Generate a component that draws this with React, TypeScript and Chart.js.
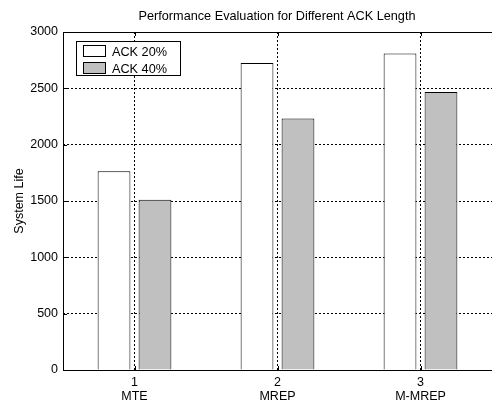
import React, { useEffect, useRef } from "react";
import { Chart, registerables } from "chart.js";

Chart.register(...registerables);

const categories: string[][] = [["1", "MTE"], ["2", "MREP"], ["3", "M-MREP"]];
const seriesNames = ["ACK 20%", "ACK 40%"];
const ack20 = [1765, 2725, 2810];
const ack40 = [1512, 2232, 2468];
const yTicks = [0, 500, 1000, 1500, 2000, 2500, 3000];
const titleText = "Performance Evaluation for Different ACK Length";
const yTitle = "System Life";

const FONT = "'Liberation Sans', Arial, sans-serif";

const framePlugin = {
  id: "frame",
  afterDraw(chart: any) {
    const { ctx, chartArea } = chart;
    const { left, right, top, bottom } = chartArea;
    ctx.save();
    // title
    ctx.fillStyle = "#000";
    ctx.font = `12.7px ${FONT}`;
    ctx.textAlign = "center";
    ctx.textBaseline = "alphabetic";
    ctx.fillText(titleText, 277, 20);
    // axes frame (right edge lies outside the picture)
    ctx.strokeStyle = "#000";
    ctx.lineWidth = 1;
    ctx.setLineDash([]);
    ctx.beginPath();
    ctx.moveTo(Math.round(left) + 0.5, Math.round(top) + 0.5);
    ctx.lineTo(Math.round(left) + 0.5, Math.round(bottom) + 0.5);
    ctx.lineTo(right, Math.round(bottom) + 0.5);
    ctx.moveTo(Math.round(left) + 0.5, Math.round(top) + 0.5);
    ctx.lineTo(right, Math.round(top) + 0.5);
    ctx.stroke();
    // inward tick marks
    const ys = chart.scales.y;
    const xs = chart.scales.x;
    ctx.beginPath();
    ys.ticks.forEach((t: any, i: number) => {
      const py = Math.round(ys.getPixelForTick(i)) + 0.5;
      ctx.moveTo(left, py);
      ctx.lineTo(left + 4, py);
    });
    xs.ticks.forEach((t: any, i: number) => {
      const px = Math.round(xs.getPixelForValue(i)) + 0.5;
      ctx.moveTo(px, bottom);
      ctx.lineTo(px, bottom - 4);
      ctx.moveTo(px, top);
      ctx.lineTo(px, top + 4);
    });
    ctx.stroke();
    // legend box
    const bx = 76, by = 41, bw = 104, bh = 34;
    ctx.fillStyle = "#fff";
    ctx.fillRect(bx, by, bw, bh);
    ctx.strokeRect(bx + 0.5, by + 0.5, bw, bh);
    ctx.font = `12.7px ${FONT}`;
    ctx.textAlign = "left";
    ctx.textBaseline = "middle";
    chart.data.datasets.forEach((ds: any, i: number) => {
      const sy = 45 + i * 17;
      ctx.fillStyle = ds.backgroundColor;
      ctx.fillRect(83, sy, 23, 12);
      ctx.strokeStyle = "#000";
      ctx.strokeRect(83.5, sy + 0.5, 22, 11);
      ctx.fillStyle = "#000";
      ctx.fillText(ds.label, 112, sy + 7);
    });
    ctx.restore();
  },
};

export default function App() {
  const ref = useRef<HTMLCanvasElement>(null);
  useEffect(() => {
    document.body.style.margin = "0";
    const canvas = ref.current!;
    const chart = new Chart(canvas, {
      type: "bar",
      data: {
        labels: categories,
        datasets: [
          {
            label: seriesNames[0],
            data: ack20,
            backgroundColor: "#ffffff",
            borderColor: "#000000",
            borderWidth: 1,
            categoryPercentage: 0.573,
            barPercentage: 0.8,
          },
          {
            label: seriesNames[1],
            data: ack40,
            backgroundColor: "#c0c0c0",
            borderColor: "#000000",
            borderWidth: 1,
            categoryPercentage: 0.573,
            barPercentage: 0.8,
          },
        ],
      },
      options: {
        animation: false,
        responsive: false,
        devicePixelRatio: 1,
        layout: { padding: { top: 32, left: 0, right: 0, bottom: 0 } },
        plugins: {
          legend: { display: false },
          title: { display: false },
          tooltip: { enabled: false },
        },
        scales: {
          x: {
            offset: true,
            grid: { offset: false, color: "#000", drawTicks: false, lineWidth: 1 },
            border: { display: false, dash: [2, 2] },
            ticks: {
              color: "#000",
              font: { family: FONT, size: 12.5, lineHeight: 1.12 },
              padding: 6,
              maxRotation: 0,
              autoSkip: false,
            },
            afterFit(scale: any) {
              scale.height = 36;
            },
          },
          y: {
            min: 0,
            max: 3000,
            afterBuildTicks(scale: any) {
              scale.ticks = yTicks.map((v) => ({ value: v }));
            },
            grid: { color: "#000", drawTicks: false, lineWidth: 1 },
            border: { display: false, dash: [2, 2] },
            ticks: {
              color: "#000",
              font: { family: FONT, size: 12.5 },
              padding: 5,
              callback: (v: any) => String(v),
            },
            title: {
              display: true,
              text: yTitle,
              color: "#000",
              font: { family: FONT, size: 12.5 },
              padding: { top: 12, bottom: 0 },
            },
            afterFit(scale: any) {
              scale.width = 63;
            },
          },
        },
      },
      plugins: [framePlugin],
    });
    return () => chart.destroy();
  }, []);
  return (
    <div style={{ width: 492, height: 406 }}>
      <canvas ref={ref} width={492} height={406} style={{ display: "block" }} />
    </div>
  );
}
